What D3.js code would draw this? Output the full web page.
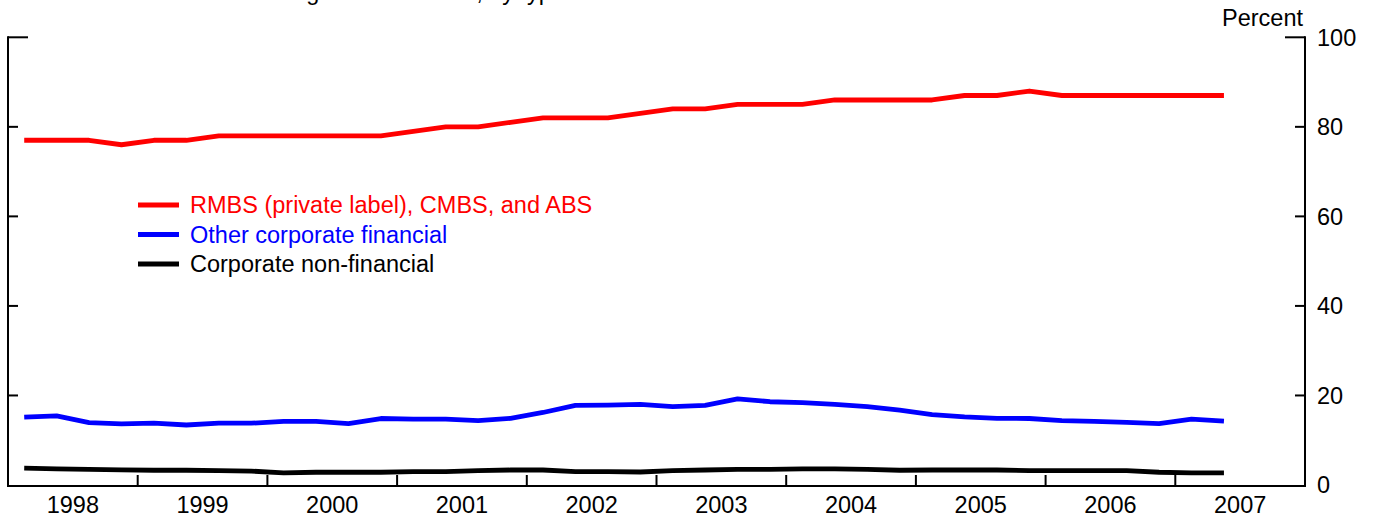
<!DOCTYPE html>
<html>
<head>
<meta charset="utf-8">
<script src="https://cdn.jsdelivr.net/npm/d3@7/dist/d3.min.js"></script>
<style>
  html, body { margin: 0; padding: 0; background: #fff; }
  svg { display: block; }
  text { font-family: Arial, "Liberation Sans", sans-serif; }
</style>
</head>
<body>
<svg id="chart" width="1376" height="518"></svg>
<script>
// ---- Data ----
const quarters = [
  "1998Q1","1998Q2","1998Q3","1998Q4","1999Q1","1999Q2","1999Q3","1999Q4",
  "2000Q1","2000Q2","2000Q3","2000Q4","2001Q1","2001Q2","2001Q3","2001Q4",
  "2002Q1","2002Q2","2002Q3","2002Q4","2003Q1","2003Q2","2003Q3","2003Q4",
  "2004Q1","2004Q2","2004Q3","2004Q4","2005Q1","2005Q2","2005Q3","2005Q4",
  "2006Q1","2006Q2","2006Q3","2006Q4","2007Q1","2007Q2"
];
const rmbsCmbsAbs = [77,77,77,76,77,77,78,78,78,78,78,78,79,80,80,81,82,82,82,83,
  84,84,85,85,85,86,86,86,86,87,87,88,87,87,87,87,87,87];
const otherCorpFinancial = [15.15,15.45,13.95,13.65,13.8,13.4,13.8,13.8,14.2,14.2,13.7,14.85,
  14.7,14.7,14.4,14.9,16.2,17.8,17.85,18.0,17.5,17.8,19.25,18.6,18.4,18.0,17.5,16.7,
  15.7,15.2,14.9,14.85,14.4,14.2,14.0,13.7,14.7,14.25];
const corpNonFinancial = [3.75,3.6,3.5,3.4,3.3,3.3,3.2,3.1,2.7,2.85,2.85,2.85,3.0,3.0,3.2,3.35,
  3.35,3.0,3.0,2.9,3.2,3.35,3.5,3.5,3.6,3.6,3.5,3.3,3.35,3.35,3.35,3.2,3.2,3.2,3.2,2.85,2.7,2.7];
const yearLabels = ["1998","1999","2000","2001","2002","2003","2004","2005","2006","2007"];
const yTicks = [0,20,40,60,80,100];
const seriesNames = ["RMBS (private label), CMBS, and ABS","Other corporate financial","Corporate non-financial"];
const seriesColors = ["#ff0000","#0000ff","#000000"];
const titleText = "Share of outstanding AAA securities, by type";
const unitLabel = "Percent";

// ---- Layout ----
const svg = d3.select("#chart");
const mLeft = 8, mRight = 1305, mTop = 37.3, mBottom = 485;
const fontSize = 23.5;

const qToTime = q => {
  const yr = +q.slice(0,4), n = +q.slice(5);
  return yr + (n - 0.5) / 4;
};
const x = d3.scaleLinear().domain([1998, 2008]).range([mLeft, mRight]);
const y = d3.scaleLinear().domain([0, 100]).range([mBottom, mTop]);

// Title (cut off at top edge, as in the reference)
svg.append("text")
  .attr("x", 565).attr("y", -0.5)
  .attr("text-anchor", "end")
  .attr("font-size", fontSize)
  .attr("fill", "#000")
  .text(titleText);

// Lines
const series = [rmbsCmbsAbs, otherCorpFinancial, corpNonFinancial];
const line = d3.line()
  .x((d, i) => x(qToTime(quarters[i])))
  .y(d => y(d));
series.forEach((s, k) => {
  svg.append("path")
    .datum(s)
    .attr("d", line)
    .attr("fill", "none")
    .attr("stroke", seriesColors[k])
    .attr("stroke-width", 4.8)
    .attr("stroke-linejoin", "round");
});

// Axes frame
const axisColor = "#000";
svg.append("line").attr("x1", mLeft).attr("x2", mLeft).attr("y1", mTop - 1).attr("y2", mBottom + 2)
  .attr("stroke", axisColor).attr("stroke-width", 2);
svg.append("line").attr("x1", mRight).attr("x2", mRight).attr("y1", mTop - 1).attr("y2", mBottom + 2)
  .attr("stroke", axisColor).attr("stroke-width", 2);
svg.append("line").attr("x1", mLeft - 1).attr("x2", mRight + 1).attr("y1", mBottom + 1).attr("y2", mBottom + 1)
  .attr("stroke", axisColor).attr("stroke-width", 2);

// y ticks (both sides, inward)
yTicks.filter(v => v !== 0).forEach(v => {
  const len = v === 100 ? 20 : 10;
  svg.append("line").attr("x1", mLeft).attr("x2", mLeft + len).attr("y1", y(v)).attr("y2", y(v))
    .attr("stroke", axisColor).attr("stroke-width", 2);
  svg.append("line").attr("x1", mRight - len).attr("x2", mRight).attr("y1", y(v)).attr("y2", y(v))
    .attr("stroke", axisColor).attr("stroke-width", 2);
});
svg.selectAll(".ylab").data(yTicks).enter().append("text")
  .attr("x", mRight + 12).attr("y", d => y(d))
  .attr("dy", "0.35em")
  .attr("font-size", fontSize)
  .attr("fill", "#000")
  .text(d => d);
svg.append("text")
  .attr("x", mRight - 2).attr("y", 26)
  .attr("text-anchor", "end")
  .attr("font-size", fontSize)
  .attr("fill", "#000")
  .text(unitLabel);

// x ticks at year boundaries (interior)
yearLabels.slice(1).forEach(yl => {
  const xv = x(+yl);
  svg.append("line").attr("x1", xv).attr("x2", xv).attr("y1", mBottom - 10).attr("y2", mBottom)
    .attr("stroke", axisColor).attr("stroke-width", 2);
});
svg.selectAll(".xlab").data(yearLabels).enter().append("text")
  .attr("x", d => x(+d + 0.5))
  .attr("y", 513)
  .attr("text-anchor", "middle")
  .attr("font-size", fontSize)
  .attr("fill", "#000")
  .text(d => d);

// Legend
const legY = [205, 234.5, 264];
seriesNames.forEach((name, k) => {
  svg.append("line").attr("x1", 138).attr("x2", 179).attr("y1", legY[k]).attr("y2", legY[k])
    .attr("stroke", seriesColors[k]).attr("stroke-width", 4.8);
  svg.append("text")
    .attr("x", 190).attr("y", legY[k]).attr("dy", "0.35em")
    .attr("font-size", fontSize)
    .attr("fill", seriesColors[k])
    .text(name);
});
</script>
</body>
</html>
